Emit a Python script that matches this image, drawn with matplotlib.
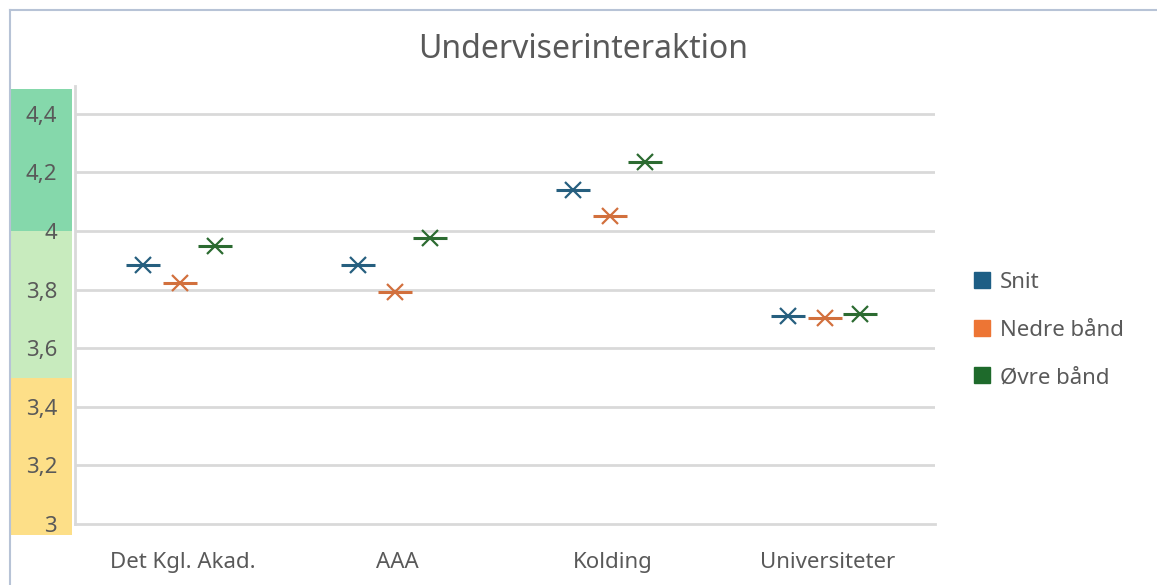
import matplotlib
matplotlib.use('Agg')
import matplotlib.pyplot as plt
from matplotlib.lines import Line2D
from matplotlib.patches import Rectangle

plt.rcParams['font.family'] = ['Noto Sans', 'DejaVu Sans']

categories = ['Det Kgl. Akad.', 'AAA', 'Kolding', 'Universiteter']
series_names = ['Snit', 'Nedre bånd', 'Øvre bånd']
snit = [3.884, 3.884, 4.140, 3.711]
nedre = [3.822, 3.791, 4.052, 3.702]
ovre = [3.949, 3.975, 4.237, 3.717]
yticks = [3.0, 3.2, 3.4, 3.6, 3.8, 4.0, 4.2, 4.4]
ytick_labels = ['3', '3,2', '3,4', '3,6', '3,8', '4', '4,2', '4,4']
# colour bands behind the y labels: (low, high, colour)
bands = [(2.962, 3.5, '#FDDF88'), (3.5, 4.0, '#C8EBBE'), (4.0, 4.485, '#85D8AB')]

marker_colors = ['#265F7F', '#D2703D', '#2C6B31']
legend_colors = ['#1D5E85', '#ED7534', '#1E6A2B']
offsets = [-0.185, -0.012, 0.153]
grid_col = '#D9D9D9'
text_col = '#595959'

fig = plt.figure(figsize=(11.57, 5.85), dpi=100)
ax = fig.add_axes([75 / 1157, 1 - 524 / 585, 860 / 1157, (524 - 86) / 585])

ax.set_xlim(0, 4)
ax.set_ylim(3.0, 4.495)

for i, vals in enumerate([snit, nedre, ovre]):
    xs = [k + 0.5 + offsets[i] for k in range(len(categories))]
    ax.plot(xs, vals, linestyle='none', marker='_', markersize=25, mew=2.2, color=marker_colors[i])
    ax.plot(xs, vals, linestyle='none', marker='x', markersize=11, mew=1.6, color=marker_colors[i])

for y in yticks[1:]:
    ax.axhline(y, color=grid_col, lw=2, zorder=0)

tr = ax.get_yaxis_transform()
for lo, hi, col in bands:
    ax.add_patch(Rectangle((-64 / 860, lo), 61 / 860, hi - lo, transform=tr,
                           facecolor=col, edgecolor='none', clip_on=False, zorder=0))

ax.set_yticks(yticks)
ax.set_yticklabels(ytick_labels)
ax.set_xticks([k + 0.5 for k in range(len(categories))])
ax.set_xticklabels(categories)
ax.tick_params(axis='y', length=0, pad=13, labelsize=16, labelcolor=text_col)
ax.tick_params(axis='x', length=0, pad=20, labelsize=16, labelcolor=text_col)
for lab in ax.get_yticklabels():
    lab.set_va('center_baseline')

for s in ['top', 'right']:
    ax.spines[s].set_visible(False)
ax.spines['left'].set_color(grid_col)
ax.spines['left'].set_linewidth(2)
ax.spines['bottom'].set_color(grid_col)
ax.spines['bottom'].set_linewidth(2)

fig.text(583 / 1157, 1 - 50 / 585, 'Underviserinteraktion', ha='center', va='center',
         fontsize=23, color=text_col)

handles = [Line2D([], [], linestyle='none', marker='s', markersize=12,
                  markerfacecolor=c, markeredgecolor=c) for c in legend_colors]
fig.legend(handles, series_names, loc='center left', bbox_to_anchor=(951 / 1157, 1 - 330 / 585),
           frameon=False, fontsize=16, labelcolor=text_col, labelspacing=1.2,
           handletextpad=0.3, handlelength=1.0)

# frame of the chart area
fig.add_artist(Line2D([10 / 1157, 10 / 1157], [0, 1 - 10 / 585], color='#B7C3D6', lw=1.5))
fig.add_artist(Line2D([10 / 1157, 1], [1 - 10 / 585, 1 - 10 / 585], color='#B7C3D6', lw=1.5))

fig.savefig('out.png', dpi=100)
